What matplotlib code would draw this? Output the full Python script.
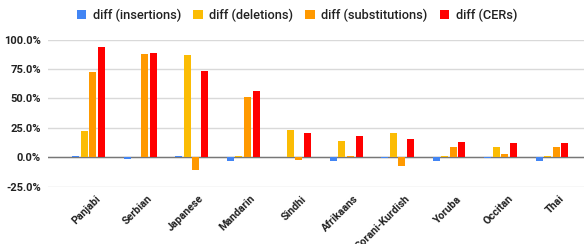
import matplotlib
matplotlib.use("Agg")
import matplotlib.pyplot as plt
import matplotlib.transforms as mtransforms
import numpy as np
from matplotlib.ticker import FuncFormatter

categories = ["Panjabi", "Serbian", "Japanese", "Mandarin", "Sindhi",
              "Afrikaans", "Sorani-Kurdish", "Yoruba", "Occitan", "Thai"]
insertions = [1.3, -1.2, 1.3, -3.4, 0.0, -3.4, -0.9, -2.9, -0.9, -3.4]
deletions = [22.5, 0.0, 86.5, 1.1, 23.0, 13.5, 20.7, 1.1, 8.5, 1.1]
substitutions = [72.0, 88.0, -11.0, 51.5, -2.0, 1.1, -7.2, 9.0, 3.1, 8.5]
cers = [93.5, 88.5, 73.5, 56.0, 20.7, 18.0, 15.5, 12.7, 12.2, 12.2]
series_names = ["diff (insertions)", "diff (deletions)", "diff (substitutions)", "diff (CERs)"]
colors = ["#4285F4", "#FBBC04", "#FF9900", "#FF0000"]
yticks = [-25, 0, 25, 50, 75, 100]

plt.rcParams['font.family'] = ['Roboto', 'DejaVu Sans']

fig = plt.figure(figsize=(5.84, 2.44), dpi=100)
ax = fig.add_axes([48/584, 1 - 186.7/244, 1 - 48/584, (186.7 - 39.5)/244])

x = np.arange(len(categories))
step = 0.167
width = 0.136
data = [insertions, deletions, substitutions, cers]
handles = []
for i, (vals, c, name) in enumerate(zip(data, colors, series_names)):
    b = ax.bar(x + (i - 1.5) * step, vals, width=width, color=c, label=name, zorder=3)
    handles.append(b)

ax.set_ylim(-25, 100)
ax.set_xlim(-0.79, 9.62)
ax.set_yticks(yticks)
ax.yaxis.set_major_formatter(FuncFormatter(lambda v, p: f"{v:.1f}%"))
ax.grid(axis='y', color='#d9d9d9', linewidth=1, zorder=0)
ax.axhline(0, color='#777777', linewidth=1.0, zorder=2)
for s in ax.spines.values():
    s.set_visible(False)
ax.tick_params(axis='both', length=0, labelsize=8)
ax.tick_params(axis='y', pad=5)
for lbl in ax.get_yticklabels():
    lbl.set_fontweight('bold')
    lbl.set_color('#222222')
ax.set_xticks(x)
ax.set_xticklabels(categories, rotation=45, ha='right', va='top', rotation_mode='anchor',
                   fontsize=7.7, fontweight='bold', color='#222222')
ax.tick_params(axis='x', pad=5)
offset = mtransforms.ScaledTranslation(7/100, 0, fig.dpi_scale_trans)
for lbl in ax.get_xticklabels():
    lbl.set_transform(lbl.get_transform() + offset)

leg = fig.legend(handles=handles, labels=series_names, loc='center',
                 bbox_to_anchor=(297/584, 1 - 15.5/244),
                 ncol=4, frameon=False, handlelength=0.75, handleheight=0.75,
                 handletextpad=0.5, columnspacing=0.95, prop={'weight': 'medium', 'size': 9.2})
for t in leg.get_texts():
    t.set_color('#222222')

fig.savefig("out.png", dpi=100)
